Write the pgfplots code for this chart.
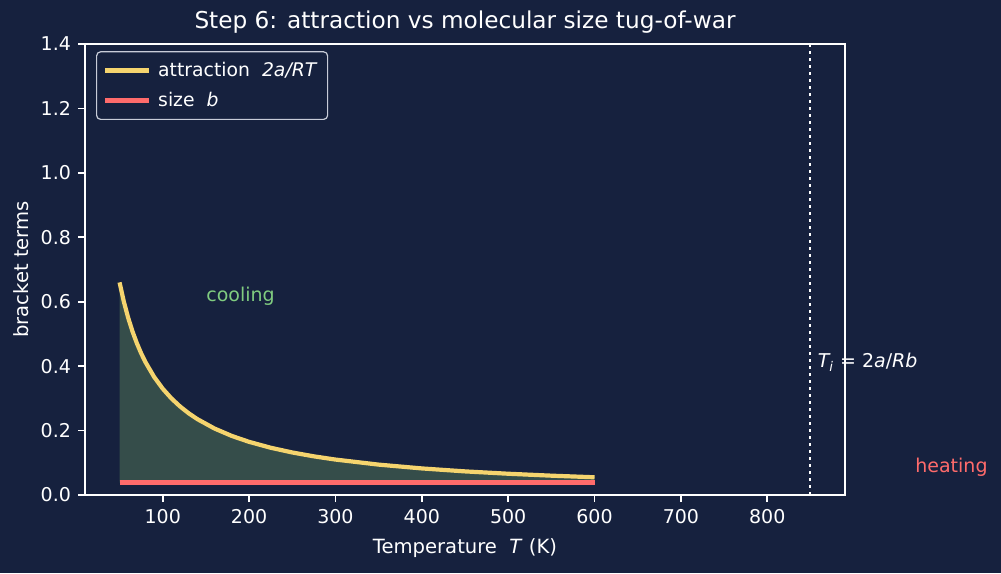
\documentclass[border=0pt]{standalone}
\usepackage{pgfplots}
\pgfplotsset{compat=1.18}
\usepgfplotslibrary{fillbetween}
\usepackage{fontspec}
\setmainfont{DejaVu Sans}
\definecolor{bgnavy}{HTML}{16213E}
\definecolor{attr}{HTML}{F5D46E}
\definecolor{sizec}{HTML}{FF6B6B}
\definecolor{coolc}{HTML}{80CC80}
\definecolor{fillc}{HTML}{354D4A}
\definecolor{legedge}{HTML}{C8CCD8}
\pagecolor{bgnavy}

\begin{document}
\begin{tikzpicture}
\begin{axis}[
  at={(42.5pt,39pt)}, anchor=south west,
  scale only axis, width=380pt, height=225.5pt,
  xmin=10, xmax=890, ymin=0, ymax=1.4,
  xtick={100,200,...,800},
  ytick={0,0.2,...,1.4},
  yticklabel style={/pgf/number format/.cd, fixed, fixed zerofill, precision=1},
  /pgf/number format/assume math mode=true,
  tick align=outside, tick pos=left,
  major tick length=3.5pt,
  axis line style={white, line width=0.8pt},
  every tick/.style={white, line width=0.8pt},
  tick label style={white, font=\fontsize{9.5}{11}\selectfont},
  label style={white, font=\fontsize{9.8}{11}\selectfont},
  xlabel={Temperature \ \textit{T} (K)},
  ylabel={bracket terms},
  xlabel style={at={(axis description cs:0.5,-0.1175)}, anchor=center},
  ylabel style={at={(axis description cs:-0.0842,0.5)}, anchor=center},
  title={Step 6: attraction vs molecular size tug-of-war},
  title style={white, font=\fontsize{11.6}{13}\selectfont,
    at={(axis description cs:0.5,1.0488)}, anchor=center, yshift=-6pt},
  clip=false,
  legend style={at={(0.0145,0.984)}, anchor=north west, fill=bgnavy,
    draw=legedge, line width=0.6pt, rounded corners=2pt, text=white,
    font=\fontsize{9.4}{11}\selectfont, row sep=2.5pt, inner xsep=3pt, inner ysep=3pt},
  legend cell align=left,
  legend image code/.code={\draw[#1, line width=2.3pt] (0pt,0pt) -- (22pt,0pt); \path (23.5pt,0pt);},
]
% attraction term 2a/RT with 2a/R = 33 K
\addplot[name path=attr, attr, line width=2.1pt] coordinates {
  (50,0.660) (55,0.600) (60,0.550) (65,0.5077) (70,0.4714) (75,0.4400)
  (80,0.4125) (90,0.3667) (100,0.3300) (110,0.3000) (120,0.2750)
  (130,0.2538) (140,0.2357) (160,0.2063) (180,0.1833) (200,0.1650)
  (225,0.1467) (250,0.1320) (275,0.1200) (300,0.1100) (350,0.0943)
  (400,0.0825) (450,0.0733) (500,0.0660) (550,0.0600) (600,0.0550)
};
\addlegendentry{attraction \ \textit{2a/RT}}
% molecular size term b
\addplot[name path=sz, sizec, line width=2.3pt] coordinates {(50,0.0388) (600,0.0388)};
\addlegendentry{size \ \textit{b}}
\addplot[fillc, forget plot] fill between[of=attr and sz];
% inversion temperature
\addplot[white, line width=1pt, dash pattern=on 1.5pt off 2pt, forget plot] coordinates {(850,0) (850,1.4)};
\node[anchor=west, text=coolc, font=\fontsize{9.5}{11}\selectfont, inner sep=0pt] at (axis cs:150,0.618) {cooling};
\node[anchor=west, text=white, font=\fontsize{9.5}{11}\selectfont, inner sep=0pt] at (axis cs:858,0.413) {\textit{T\textsubscript{i}} = 2\textit{a}/\textit{Rb}};
\node[anchor=west, text=sizec, font=\fontsize{9.5}{11}\selectfont, inner sep=0pt] at (axis cs:971,0.087) {heating};
\end{axis}
\pgfresetboundingbox
\path[use as bounding box] (0pt,0pt) rectangle (500.5pt,286.5pt);
\end{tikzpicture}
\end{document}
